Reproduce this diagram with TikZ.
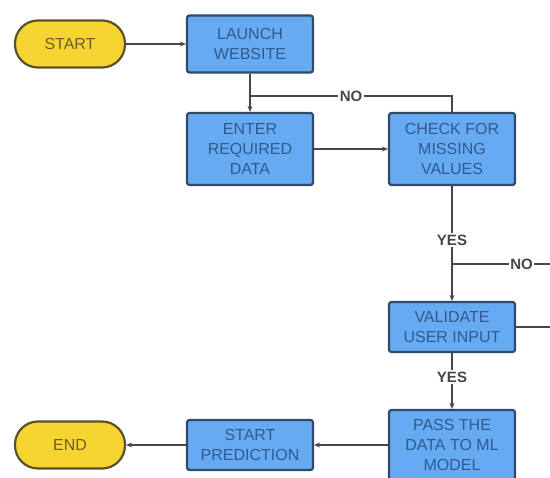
\documentclass[tikz,border=0pt]{standalone}
\usepackage{fontspec}
\setmainfont{Liberation Sans}
\usetikzlibrary{arrows.meta}
\definecolor{boxfill}{HTML}{66AAF2}
\definecolor{boxdraw}{HTML}{2F4A6A}
\definecolor{boxtext}{HTML}{2F5B92}
\definecolor{termfill}{HTML}{F6D532}
\definecolor{termdraw}{HTML}{5A5228}
\definecolor{termtext}{HTML}{6B5E22}
\definecolor{linecol}{HTML}{474747}
\begin{document}
\begin{tikzpicture}[x=1pt,y=-1pt,
 procbox/.style={draw=boxdraw, fill=boxfill, line width=2.2pt, rounded corners=2.5pt, minimum width=126pt, inner sep=0pt, align=center, text=boxtext, font=\fontsize{16}{20}\selectfont},
 term/.style={draw=termdraw, fill=termfill, line width=2.2pt, rounded corners=23pt, minimum width=110pt, minimum height=47pt, inner sep=0pt, text=termtext, font=\fontsize{16}{20}\selectfont},
 conn/.style={draw=linecol, line width=1.8pt, -{Stealth[length=6pt,width=5pt]}},
 plain/.style={draw=linecol, line width=1.8pt},
 lbl/.style={fill=white, text=linecol, font=\bfseries\fontsize{15}{18}\selectfont, inner sep=1.5pt}]
\clip (0,0) rectangle (550,478);
\fill[white] (0,0) rectangle (550,478);
\node[term] (start) at (70,44) {START};
\node[procbox, minimum height=57pt] (launch) at (250,44) {LAUNCH\\WEBSITE};
\node[procbox, minimum height=72pt] (enter) at (250,149) {ENTER\\REQUIRED\\DATA};
\node[procbox, minimum height=72pt] (check) at (452,149) {CHECK FOR\\MISSING\\VALUES};
\node[procbox, minimum height=50pt] (valid) at (452,327) {VALIDATE\\USER INPUT};
\node[procbox, minimum height=70pt] (pass) at (452,445) {PASS THE\\DATA TO ML\\MODEL};
\node[procbox, minimum height=50pt] (pred) at (250,445) {START\\PREDICTION};
\node[term] (end) at (70,445) {END};
\coordinate (loopL) at (250,96);
\coordinate (j1) at (452,264);
\coordinate (e1) at (550,264);
\coordinate (e2) at (550,327);
\draw[conn] (start) -- (launch);
\draw[conn] (launch) -- (enter);
\draw[plain] (check.north) |- node[lbl, pos=0.75] {NO} (loopL);
\draw[conn] (enter) -- (check);
\draw[conn] (check) -- node[lbl, pos=0.47] {YES} (valid);
\draw[plain] (j1) -- node[lbl, pos=0.71] {NO} (e1);
\draw[plain] (valid) -- (e2);
\draw[conn] (valid) -- node[lbl, pos=0.43] {YES} (pass);
\draw[conn] (pass) -- (pred);
\draw[conn] (pred) -- (end);
\end{tikzpicture}
\end{document}
